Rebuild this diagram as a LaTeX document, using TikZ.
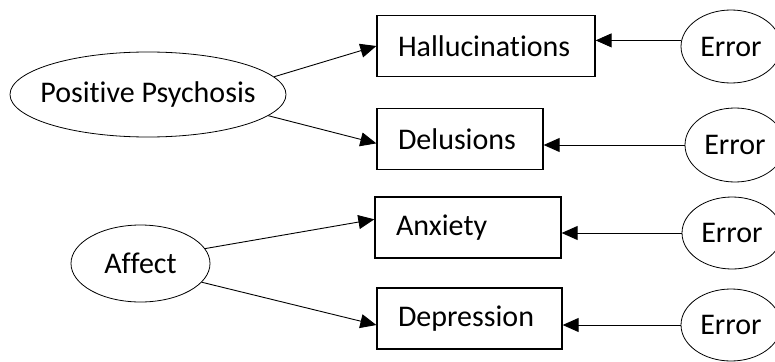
\documentclass[tikz,border=0pt]{standalone}
\usepackage{fontspec}
\setmainfont{Carlito}[Ligatures=CommonOff]
\usetikzlibrary{arrows.meta,shapes.geometric}
\tikzset{
  latent/.style={draw,ellipse,line width=0.8pt,inner sep=0pt},
  observed/.style={draw,rectangle,line width=1.3pt,minimum height=61pt,inner xsep=21pt,inner ysep=0pt,align=left},
  loading/.style={line width=0.9pt,-{Triangle[length=16pt,width=14pt]}}
}

\begin{document}
\begin{tikzpicture}[x=1pt,y=-1pt,font=\fontsize{30}{36}\selectfont]
\path[use as bounding box,clip] (0,0) rectangle (775,361);
\node[latent,minimum width=276pt,minimum height=85pt] (pos) at (148,94.5) {\makebox[0pt]{Positive Psychosis}};
\node[latent,minimum width=139pt,minimum height=77pt] (aff) at (140.5,263.5) {\makebox[0pt]{Affect}};
\node[observed,text width=176pt] (hall) at (486,46) {Hallucinations};
\node[observed,text width=124pt] (delu) at (460,139) {Delusions};
\node[observed,text width=144pt] (anx) at (468,227.5) {Anxiety};
\node[observed,text width=143pt] (depr) at (469.5,318.5) {Depression};
\node[latent,minimum width=100pt,minimum height=73pt] (err1) at (731,46.5) {Error};
\node[latent,minimum width=100pt,minimum height=74pt] (err2) at (735,145) {Error};
\node[latent,minimum width=100pt,minimum height=72pt] (err3) at (732,233) {Error};
\node[latent,minimum width=100pt,minimum height=72pt] (err4) at (731,325) {Error};
\draw[loading] (pos.8) -- (hall.west);
\draw[loading] (pos.-10) -- (delu.183);
\draw[loading] (aff.13) -- (anx.175);
\draw[loading] (aff.-17) -- (depr.184);
\draw[loading] (err1.173) -- (err1.173 -| hall.east);
\draw[loading] (err2.west) -- (err2.west -| delu.east);
\draw[loading] (err3.west) -- (err3.west -| anx.east);
\draw[loading] (err4.west) -- (err4.west -| depr.east);
\end{tikzpicture}
\end{document}
